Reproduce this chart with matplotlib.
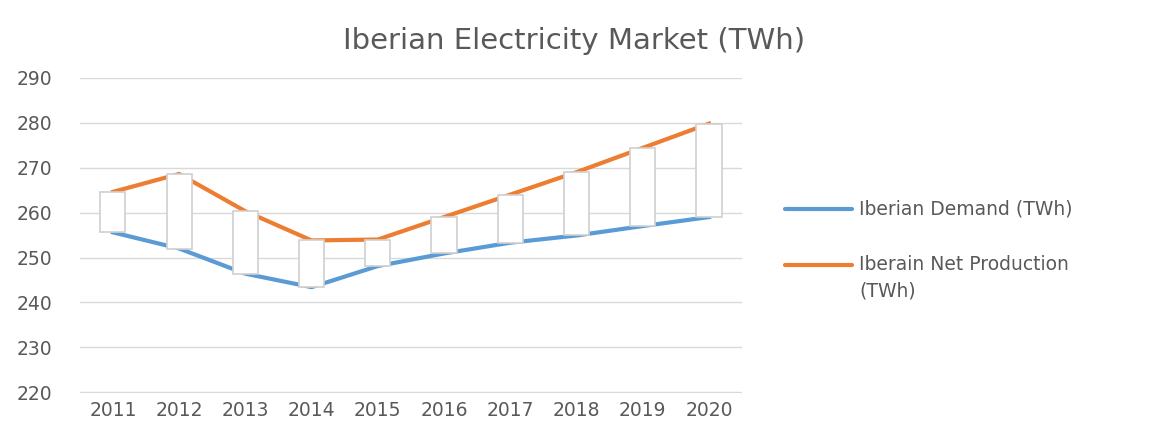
import matplotlib
matplotlib.use("Agg")
import matplotlib.pyplot as plt
from matplotlib.lines import Line2D
import numpy as np

# data
years = ['2011', '2012', '2013', '2014', '2015', '2016', '2017', '2018', '2019', '2020']
demand = [255.6, 252.0, 246.4, 243.4, 248.1, 250.9, 253.3, 254.9, 257.0, 259.0]
production = [264.6, 268.6, 260.3, 253.8, 254.0, 259.0, 264.0, 269.0, 274.4, 279.8]
yticks = [220, 230, 240, 250, 260, 270, 280, 290]
labels = ['Iberian Demand (TWh)', 'Iberain Net Production\n(TWh)']
colors = ['#5B9BD5', '#ED7D31']

grey = '#595959'
plt.rcParams['font.family'] = ['DejaVu Sans']

W, H = 1156, 433
fig = plt.figure(figsize=(W / 100, H / 100), dpi=100)
ax = fig.add_axes([0.069, 0.0924, 0.573, 0.728])

x = np.arange(len(years))
ax.plot(x, demand, color=colors[0], lw=3, zorder=2)
ax.plot(x, production, color=colors[1], lw=3, zorder=2)

# up/down bars between the two series
ax.bar(x, np.array(production) - np.array(demand), bottom=demand, width=0.38,
       color='white', edgecolor='#D0D0D0', lw=1.2, zorder=3)

ax.set_xlim(-0.5, len(years) - 0.5)
ax.set_ylim(219.85, 290)
ax.set_yticks(yticks)
ax.set_xticks(x)
ax.set_xticklabels(years)
ax.grid(axis='y', color='#D9D9D9', lw=1, zorder=0)
ax.set_axisbelow(True)
for s in ax.spines.values():
    s.set_visible(False)
ax.tick_params(length=0, labelsize=13.5, colors=grey)
ax.tick_params(axis='y', pad=20)
ax.tick_params(axis='x', pad=6)

fig.text(0.497, 0.906, 'Iberian Electricity Market (TWh)', ha='center', va='center',
         fontsize=21, color=grey)

# legend drawn by hand so the handle sits on the first text line
for lab, c, yp in zip(labels, colors, [209, 265]):
    fy = 1 - yp / H
    fig.add_artist(Line2D([785 / W, 852 / W], [fy, fy], color=c, lw=3,
                          solid_capstyle='round'))
    fig.text(859 / W, 1 - (yp - 10) / H, lab, ha='left', va='top', fontsize=13.5,
             color=grey, linespacing=1.5)

fig.savefig('out.png', dpi=100)
